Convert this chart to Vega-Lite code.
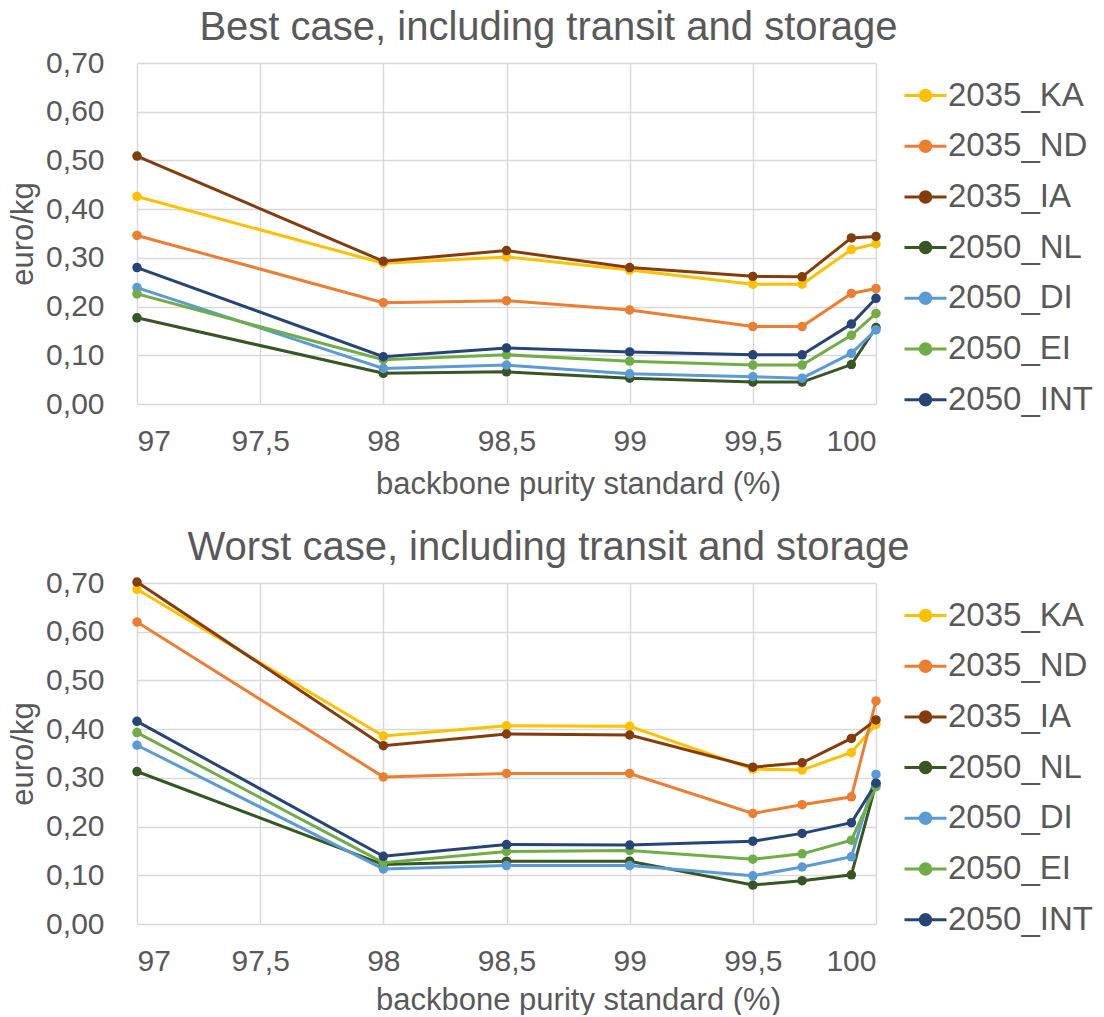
{
  "$schema": "https://vega.github.io/schema/vega-lite/v6.json",
  "padding": {"left": 7, "top": 8, "right": 0, "bottom": 0},
  "background": "white",
  "config": {
    "locale": {"number": {"decimal": ",", "thousands": ".", "grouping": [3], "currency": ["", " €"]}},
    "font": "Liberation Sans",
    "view": {"stroke": null},
    "axis": {
      "labelFont": "Liberation Sans", "labelFontSize": 30, "labelColor": "#595959",
      "titleFont": "Liberation Sans", "titleFontSize": 31, "titleColor": "#595959", "titleFontWeight": "normal",
      "gridColor": "#D9D9D9", "gridWidth": 1.5, "domain": false, "ticks": false
    },
    "legend": {"labelFont": "Liberation Sans", "labelFontSize": 33, "labelColor": "#595959"},
    "title": {"font": "Liberation Sans", "fontSize": 40, "color": "#595959", "fontWeight": "normal"}
  },
  "data": {"values": [
    {"panel": "best", "series": "2035_KA", "x": 97, "y": 0.426},
    {"panel": "best", "series": "2035_KA", "x": 98, "y": 0.289},
    {"panel": "best", "series": "2035_KA", "x": 98.5, "y": 0.302},
    {"panel": "best", "series": "2035_KA", "x": 99, "y": 0.275},
    {"panel": "best", "series": "2035_KA", "x": 99.5, "y": 0.246},
    {"panel": "best", "series": "2035_KA", "x": 99.7, "y": 0.246},
    {"panel": "best", "series": "2035_KA", "x": 99.9, "y": 0.317},
    {"panel": "best", "series": "2035_KA", "x": 100, "y": 0.329},
    {"panel": "best", "series": "2035_ND", "x": 97, "y": 0.346},
    {"panel": "best", "series": "2035_ND", "x": 98, "y": 0.208},
    {"panel": "best", "series": "2035_ND", "x": 98.5, "y": 0.212},
    {"panel": "best", "series": "2035_ND", "x": 99, "y": 0.193},
    {"panel": "best", "series": "2035_ND", "x": 99.5, "y": 0.159},
    {"panel": "best", "series": "2035_ND", "x": 99.7, "y": 0.159},
    {"panel": "best", "series": "2035_ND", "x": 99.9, "y": 0.227},
    {"panel": "best", "series": "2035_ND", "x": 100, "y": 0.237},
    {"panel": "best", "series": "2035_IA", "x": 97, "y": 0.509},
    {"panel": "best", "series": "2035_IA", "x": 98, "y": 0.293},
    {"panel": "best", "series": "2035_IA", "x": 98.5, "y": 0.315},
    {"panel": "best", "series": "2035_IA", "x": 99, "y": 0.280},
    {"panel": "best", "series": "2035_IA", "x": 99.5, "y": 0.262},
    {"panel": "best", "series": "2035_IA", "x": 99.7, "y": 0.261},
    {"panel": "best", "series": "2035_IA", "x": 99.9, "y": 0.341},
    {"panel": "best", "series": "2035_IA", "x": 100, "y": 0.344},
    {"panel": "best", "series": "2050_NL", "x": 97, "y": 0.177},
    {"panel": "best", "series": "2050_NL", "x": 98, "y": 0.063},
    {"panel": "best", "series": "2050_NL", "x": 98.5, "y": 0.066},
    {"panel": "best", "series": "2050_NL", "x": 99, "y": 0.053},
    {"panel": "best", "series": "2050_NL", "x": 99.5, "y": 0.045},
    {"panel": "best", "series": "2050_NL", "x": 99.7, "y": 0.045},
    {"panel": "best", "series": "2050_NL", "x": 99.9, "y": 0.081},
    {"panel": "best", "series": "2050_NL", "x": 100, "y": 0.157},
    {"panel": "best", "series": "2050_DI", "x": 97, "y": 0.239},
    {"panel": "best", "series": "2050_DI", "x": 98, "y": 0.073},
    {"panel": "best", "series": "2050_DI", "x": 98.5, "y": 0.080},
    {"panel": "best", "series": "2050_DI", "x": 99, "y": 0.062},
    {"panel": "best", "series": "2050_DI", "x": 99.5, "y": 0.056},
    {"panel": "best", "series": "2050_DI", "x": 99.7, "y": 0.053},
    {"panel": "best", "series": "2050_DI", "x": 99.9, "y": 0.104},
    {"panel": "best", "series": "2050_DI", "x": 100, "y": 0.152},
    {"panel": "best", "series": "2050_EI", "x": 97, "y": 0.226},
    {"panel": "best", "series": "2050_EI", "x": 98, "y": 0.091},
    {"panel": "best", "series": "2050_EI", "x": 98.5, "y": 0.101},
    {"panel": "best", "series": "2050_EI", "x": 99, "y": 0.088},
    {"panel": "best", "series": "2050_EI", "x": 99.5, "y": 0.080},
    {"panel": "best", "series": "2050_EI", "x": 99.7, "y": 0.080},
    {"panel": "best", "series": "2050_EI", "x": 99.9, "y": 0.141},
    {"panel": "best", "series": "2050_EI", "x": 100, "y": 0.186},
    {"panel": "best", "series": "2050_INT", "x": 97, "y": 0.280},
    {"panel": "best", "series": "2050_INT", "x": 98, "y": 0.097},
    {"panel": "best", "series": "2050_INT", "x": 98.5, "y": 0.115},
    {"panel": "best", "series": "2050_INT", "x": 99, "y": 0.107},
    {"panel": "best", "series": "2050_INT", "x": 99.5, "y": 0.101},
    {"panel": "best", "series": "2050_INT", "x": 99.7, "y": 0.101},
    {"panel": "best", "series": "2050_INT", "x": 99.9, "y": 0.164},
    {"panel": "best", "series": "2050_INT", "x": 100, "y": 0.217},
    {"panel": "worst", "series": "2035_KA", "x": 97, "y": 0.687},
    {"panel": "worst", "series": "2035_KA", "x": 98, "y": 0.386},
    {"panel": "worst", "series": "2035_KA", "x": 98.5, "y": 0.407},
    {"panel": "worst", "series": "2035_KA", "x": 99, "y": 0.406},
    {"panel": "worst", "series": "2035_KA", "x": 99.5, "y": 0.318},
    {"panel": "worst", "series": "2035_KA", "x": 99.7, "y": 0.316},
    {"panel": "worst", "series": "2035_KA", "x": 99.9, "y": 0.352},
    {"panel": "worst", "series": "2035_KA", "x": 100, "y": 0.410},
    {"panel": "worst", "series": "2035_ND", "x": 97, "y": 0.620},
    {"panel": "worst", "series": "2035_ND", "x": 98, "y": 0.302},
    {"panel": "worst", "series": "2035_ND", "x": 98.5, "y": 0.309},
    {"panel": "worst", "series": "2035_ND", "x": 99, "y": 0.309},
    {"panel": "worst", "series": "2035_ND", "x": 99.5, "y": 0.227},
    {"panel": "worst", "series": "2035_ND", "x": 99.7, "y": 0.245},
    {"panel": "worst", "series": "2035_ND", "x": 99.9, "y": 0.261},
    {"panel": "worst", "series": "2035_ND", "x": 100, "y": 0.458},
    {"panel": "worst", "series": "2035_IA", "x": 97, "y": 0.702},
    {"panel": "worst", "series": "2035_IA", "x": 98, "y": 0.366},
    {"panel": "worst", "series": "2035_IA", "x": 98.5, "y": 0.390},
    {"panel": "worst", "series": "2035_IA", "x": 99, "y": 0.388},
    {"panel": "worst", "series": "2035_IA", "x": 99.5, "y": 0.322},
    {"panel": "worst", "series": "2035_IA", "x": 99.7, "y": 0.331},
    {"panel": "worst", "series": "2035_IA", "x": 99.9, "y": 0.381},
    {"panel": "worst", "series": "2035_IA", "x": 100, "y": 0.419},
    {"panel": "worst", "series": "2050_NL", "x": 97, "y": 0.313},
    {"panel": "worst", "series": "2050_NL", "x": 98, "y": 0.122},
    {"panel": "worst", "series": "2050_NL", "x": 98.5, "y": 0.129},
    {"panel": "worst", "series": "2050_NL", "x": 99, "y": 0.129},
    {"panel": "worst", "series": "2050_NL", "x": 99.5, "y": 0.080},
    {"panel": "worst", "series": "2050_NL", "x": 99.7, "y": 0.089},
    {"panel": "worst", "series": "2050_NL", "x": 99.9, "y": 0.101},
    {"panel": "worst", "series": "2050_NL", "x": 100, "y": 0.288},
    {"panel": "worst", "series": "2050_DI", "x": 97, "y": 0.367},
    {"panel": "worst", "series": "2050_DI", "x": 98, "y": 0.113},
    {"panel": "worst", "series": "2050_DI", "x": 98.5, "y": 0.120},
    {"panel": "worst", "series": "2050_DI", "x": 99, "y": 0.120},
    {"panel": "worst", "series": "2050_DI", "x": 99.5, "y": 0.099},
    {"panel": "worst", "series": "2050_DI", "x": 99.7, "y": 0.117},
    {"panel": "worst", "series": "2050_DI", "x": 99.9, "y": 0.138},
    {"panel": "worst", "series": "2050_DI", "x": 100, "y": 0.307},
    {"panel": "worst", "series": "2050_EI", "x": 97, "y": 0.393},
    {"panel": "worst", "series": "2050_EI", "x": 98, "y": 0.126},
    {"panel": "worst", "series": "2050_EI", "x": 98.5, "y": 0.149},
    {"panel": "worst", "series": "2050_EI", "x": 99, "y": 0.151},
    {"panel": "worst", "series": "2050_EI", "x": 99.5, "y": 0.133},
    {"panel": "worst", "series": "2050_EI", "x": 99.7, "y": 0.144},
    {"panel": "worst", "series": "2050_EI", "x": 99.9, "y": 0.172},
    {"panel": "worst", "series": "2050_EI", "x": 100, "y": 0.282},
    {"panel": "worst", "series": "2050_INT", "x": 97, "y": 0.416},
    {"panel": "worst", "series": "2050_INT", "x": 98, "y": 0.139},
    {"panel": "worst", "series": "2050_INT", "x": 98.5, "y": 0.163},
    {"panel": "worst", "series": "2050_INT", "x": 99, "y": 0.162},
    {"panel": "worst", "series": "2050_INT", "x": 99.5, "y": 0.170},
    {"panel": "worst", "series": "2050_INT", "x": 99.7, "y": 0.186},
    {"panel": "worst", "series": "2050_INT", "x": 99.9, "y": 0.208},
    {"panel": "worst", "series": "2050_INT", "x": 100, "y": 0.289}
  ]},
  "spacing": 29,
  "resolve": {"legend": {"color": "independent"}},
  "vconcat": [
    {
      "title": {"text": "Best case, including transit and storage", "anchor": "middle", "frame": "group", "dx": 42, "offset": 0},
      "width": 739, "height": 341,
      "transform": [{"filter": "datum.panel === 'best'"}],
      "mark": {"type": "line", "strokeWidth": 3, "point": {"filled": true, "size": 90}},
      "encoding": {
        "x": {"field": "x", "type": "quantitative", "scale": {"domain": [97, 100], "nice": false, "zero": false},
          "axis": {"values": [97, 97.5, 98, 98.5, 99, 99.5, 100], "format": ".1~f", "title": "backbone purity standard (%)", "labelPadding": 22, "titlePadding": 13, "titleX": 441}},
        "y": {"field": "y", "type": "quantitative", "scale": {"domain": [0, 0.7], "nice": false},
          "axis": {"values": [0, 0.1, 0.2, 0.3, 0.4, 0.5, 0.6, 0.7], "format": ".2f", "title": "euro/kg", "labelPadding": 33, "titlePadding": 6}},
        "color": {"field": "series", "type": "nominal",
          "scale": {"domain": ["2035_KA", "2035_ND", "2035_IA", "2050_NL", "2050_DI", "2050_EI", "2050_INT"],
                    "range": ["#FFC000", "#ED7D31", "#843C0C", "#375623", "#5B9BD5", "#70AD47", "#264478"]},
          "legend": {"title": null, "orient": "right", "offset": 11, "padding": 10, "rowPadding": 10.7,
            "symbolType": "M-1,0L1,0M-0.25,0A0.25,0.25,0,1,1,0.25,0A0.25,0.25,0,1,1,-0.25,0Z", "symbolSize": 1764, "symbolStrokeWidth": 3, "labelOffset": 0,
            "encode": {"symbols": {"update": {"fill": {"scale": "color", "field": "value"}, "stroke": {"scale": "color", "field": "value"}}}}}}
      }
    },
    {
      "title": {"text": "Worst case, including transit and storage", "anchor": "middle", "frame": "group", "dx": 42, "offset": 0},
      "width": 739, "height": 341,
      "transform": [{"filter": "datum.panel === 'worst'"}],
      "mark": {"type": "line", "strokeWidth": 3, "point": {"filled": true, "size": 90}},
      "encoding": {
        "x": {"field": "x", "type": "quantitative", "scale": {"domain": [97, 100], "nice": false, "zero": false},
          "axis": {"values": [97, 97.5, 98, 98.5, 99, 99.5, 100], "format": ".1~f", "title": "backbone purity standard (%)", "labelPadding": 22, "titlePadding": 9, "titleX": 441}},
        "y": {"field": "y", "type": "quantitative", "scale": {"domain": [0, 0.7], "nice": false},
          "axis": {"values": [0, 0.1, 0.2, 0.3, 0.4, 0.5, 0.6, 0.7], "format": ".2f", "title": "euro/kg", "labelPadding": 33, "titlePadding": 6}},
        "color": {"field": "series", "type": "nominal",
          "scale": {"domain": ["2035_KA", "2035_ND", "2035_IA", "2050_NL", "2050_DI", "2050_EI", "2050_INT"],
                    "range": ["#FFC000", "#ED7D31", "#843C0C", "#375623", "#5B9BD5", "#70AD47", "#264478"]},
          "legend": {"title": null, "orient": "right", "offset": 11, "padding": 10, "rowPadding": 10.7,
            "symbolType": "M-1,0L1,0M-0.25,0A0.25,0.25,0,1,1,0.25,0A0.25,0.25,0,1,1,-0.25,0Z", "symbolSize": 1764, "symbolStrokeWidth": 3, "labelOffset": 0,
            "encode": {"symbols": {"update": {"fill": {"scale": "color", "field": "value"}, "stroke": {"scale": "color", "field": "value"}}}}}}
      }
    }
  ]
}
